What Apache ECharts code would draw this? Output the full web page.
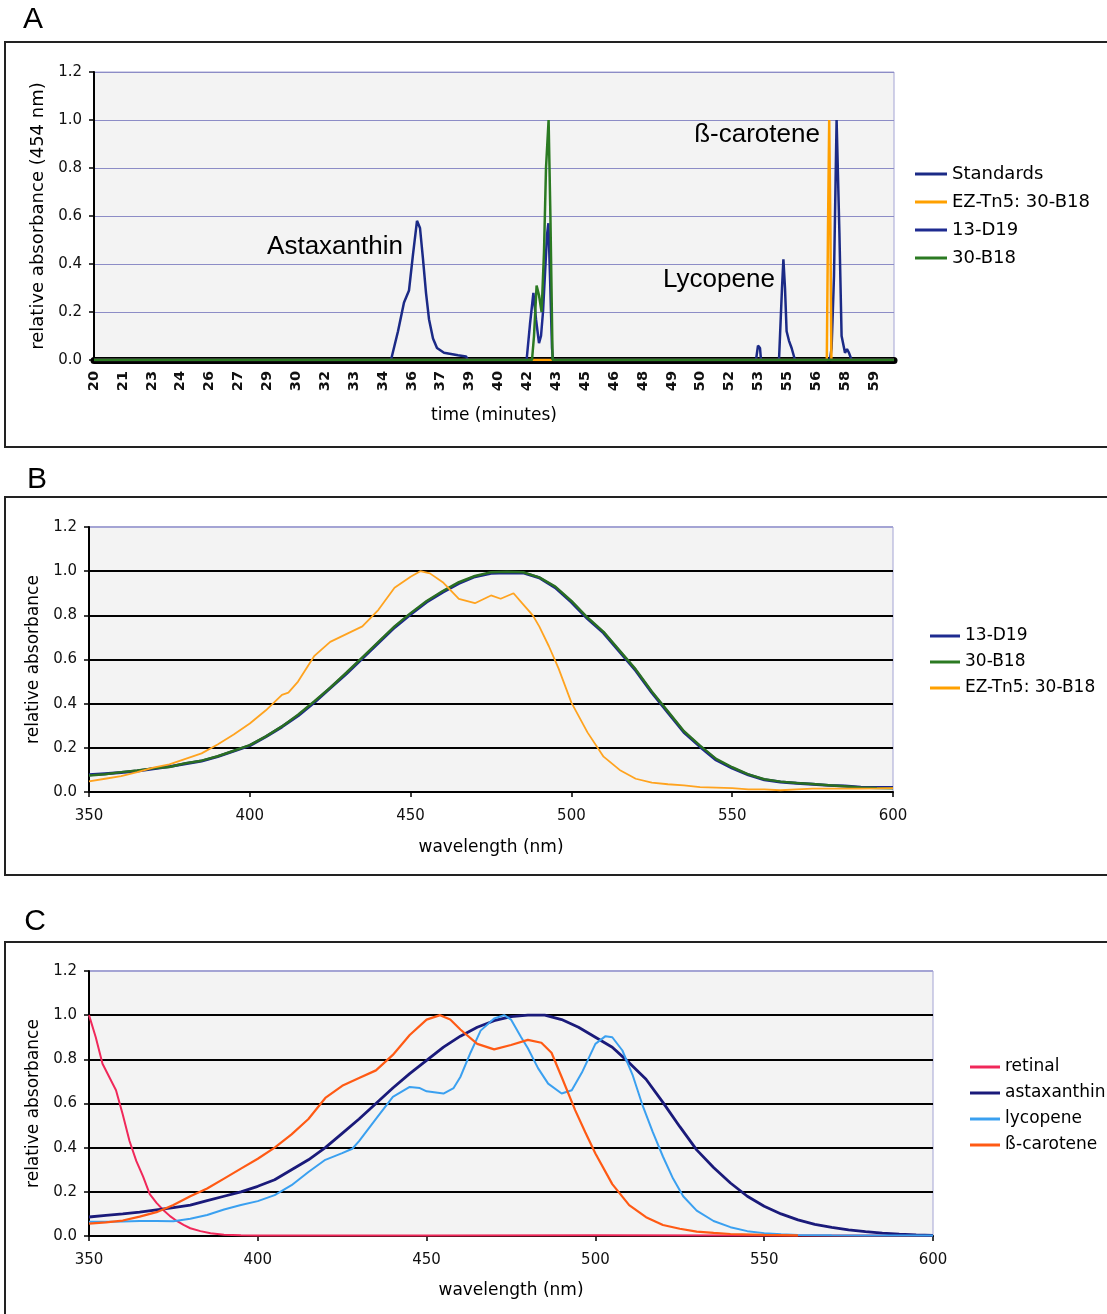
<!DOCTYPE html>
<html><head><meta charset="utf-8">
<script src="https://cdn.jsdelivr.net/npm/echarts@6/dist/echarts.min.js"></script>
<style>html,body{margin:0;padding:0;background:#fff}#c{width:1107px;height:1314px}</style>
</head><body><div id="c"></div>
<script>
// ---------- Panel A: HPLC traces (time in minutes, relative absorbance at 454 nm)
const timeTickLabels = ['20','21','23','24','26','27','29','30','32','33','34','36','37','39','40','42','43','45','46','48','49','50','52','53','55','56','58','59'];
const aStandards = [[20,0],[34.85,0],[35.2,0.12],[35.5,0.24],[35.75,0.29],[35.95,0.44],[36.15,0.58],[36.3,0.55],[36.45,0.42],[36.6,0.28],[36.75,0.17],[36.95,0.09],[37.15,0.05],[37.5,0.03],[38.2,0.02],[38.6,0.015],[38.7,0],[53.1,0],[53.2,0.06],[53.3,0.05],[53.35,0],[54.25,0],[54.4,0.3],[54.47,0.42],[54.55,0.3],[54.63,0.12],[54.75,0.08],[54.88,0.05],[55.05,0],[56.8,0],[56.88,0.05],[57.0,0.35],[57.13,1.0],[57.27,0.53],[57.38,0.1],[57.55,0.03],[57.65,0.045],[57.75,0.03],[57.88,0],[60,0]];
const aEzTn5 = [[20,0],[56.64,0],[56.7,0.55],[56.76,1.0],[56.82,0.55],[56.87,0],[60,0]];
const a13D19 = [[20,0],[41.63,0],[41.8,0.15],[41.97,0.28],[42.1,0.17],[42.25,0.07],[42.35,0.1],[42.45,0.2],[42.55,0.36],[42.65,0.52],[42.72,0.57],[42.8,0.35],[42.9,0.05],[42.95,0],[60,0]];
const a30B18 = [[20,0],[41.9,0],[42.0,0.1],[42.13,0.31],[42.25,0.27],[42.38,0.2],[42.5,0.45],[42.6,0.8],[42.73,1.0],[42.82,0.6],[42.93,0],[60,0]];

// ---------- Panel B: absorbance spectra (wavelength nm)
const b13D19 = [[350,0.078],[355,0.083],[360,0.088],[365,0.095],[370,0.105],[375,0.115],[380,0.128],[385,0.14],[390,0.16],[395,0.185],[400,0.21],[405,0.25],[410,0.295],[415,0.345],[420,0.405],[425,0.47],[430,0.535],[435,0.605],[440,0.675],[445,0.745],[450,0.805],[455,0.86],[460,0.905],[465,0.945],[470,0.975],[475,0.99],[480,0.993],[485,0.992],[490,0.97],[495,0.925],[500,0.86],[505,0.785],[510,0.72],[515,0.635],[520,0.55],[525,0.45],[530,0.36],[535,0.27],[540,0.205],[545,0.145],[550,0.108],[555,0.078],[560,0.055],[565,0.045],[570,0.04],[575,0.035],[580,0.03],[585,0.027],[590,0.022],[595,0.02],[600,0.02]];
const b30B18 = [[350,0.075],[355,0.08],[360,0.09],[365,0.097],[370,0.107],[375,0.113],[380,0.13],[385,0.142],[390,0.162],[395,0.187],[400,0.212],[405,0.252],[410,0.297],[415,0.35],[420,0.41],[425,0.472],[430,0.54],[435,0.61],[440,0.68],[445,0.75],[450,0.81],[455,0.865],[460,0.91],[465,0.95],[470,0.978],[475,0.995],[480,0.997],[485,0.995],[490,0.972],[495,0.93],[500,0.865],[505,0.79],[510,0.725],[515,0.64],[520,0.555],[525,0.455],[530,0.365],[535,0.275],[540,0.21],[545,0.15],[550,0.112],[555,0.08],[560,0.058],[565,0.047],[570,0.041],[575,0.036],[580,0.031],[585,0.026],[590,0.02],[595,0.018],[600,0.017]];
const bEzTn5 = [[350,0.048],[355,0.06],[360,0.072],[365,0.09],[370,0.11],[375,0.125],[380,0.15],[385,0.175],[390,0.215],[395,0.26],[400,0.31],[405,0.37],[410,0.44],[412,0.45],[415,0.5],[420,0.615],[425,0.68],[430,0.715],[435,0.75],[440,0.825],[445,0.925],[450,0.975],[453,1.0],[456,0.99],[460,0.95],[465,0.875],[470,0.855],[475,0.89],[478,0.875],[482,0.9],[485,0.85],[488,0.8],[490,0.75],[493,0.66],[496,0.56],[500,0.405],[505,0.27],[510,0.16],[515,0.1],[520,0.06],[525,0.042],[530,0.035],[535,0.03],[540,0.022],[545,0.02],[550,0.018],[555,0.012],[560,0.012],[565,0.008],[570,0.012],[575,0.015],[580,0.015],[585,0.015],[590,0.015],[595,0.016],[600,0.018]];

// ---------- Panel C: reference spectra
const cRetinal = [[350,1.0],[352,0.9],[354,0.78],[356,0.72],[358,0.66],[360,0.55],[362,0.43],[364,0.34],[366,0.27],[368,0.19],[370,0.15],[372,0.118],[374,0.09],[376,0.068],[378,0.05],[380,0.035],[383,0.022],[386,0.012],[390,0.006],[395,0.003],[400,0.002],[450,0.002],[500,0.003],[550,0.002],[600,0.002]];
const cAstaxanthin = [[350,0.086],[355,0.093],[360,0.1],[365,0.108],[370,0.118],[375,0.128],[380,0.14],[385,0.16],[390,0.18],[395,0.2],[400,0.225],[405,0.255],[410,0.3],[415,0.345],[420,0.4],[425,0.465],[430,0.53],[435,0.6],[440,0.67],[445,0.735],[450,0.795],[455,0.855],[460,0.905],[465,0.945],[470,0.975],[475,0.993],[480,1.0],[485,1.0],[490,0.98],[495,0.945],[500,0.9],[505,0.855],[510,0.785],[515,0.71],[520,0.605],[525,0.495],[530,0.39],[535,0.31],[540,0.24],[545,0.18],[550,0.135],[555,0.1],[560,0.073],[565,0.053],[570,0.039],[575,0.028],[580,0.02],[585,0.013],[590,0.008],[595,0.005],[600,0.003]];
const cLycopene = [[350,0.065],[355,0.065],[360,0.066],[365,0.068],[370,0.068],[375,0.067],[380,0.078],[385,0.095],[390,0.12],[395,0.14],[400,0.158],[405,0.185],[410,0.23],[415,0.29],[420,0.345],[425,0.375],[428,0.395],[430,0.43],[435,0.53],[440,0.63],[445,0.675],[448,0.67],[450,0.655],[455,0.645],[458,0.67],[460,0.72],[463,0.83],[466,0.93],[470,0.985],[473,1.0],[475,0.98],[478,0.9],[480,0.85],[483,0.76],[486,0.69],[490,0.645],[493,0.66],[496,0.74],[500,0.87],[503,0.905],[505,0.9],[508,0.84],[511,0.73],[514,0.59],[517,0.47],[520,0.36],[523,0.26],[526,0.18],[530,0.115],[535,0.068],[540,0.04],[545,0.022],[550,0.013],[555,0.008],[560,0.005],[570,0.003],[580,0.002],[590,0.002],[600,0.002]];
const cBetaCarotene = [[350,0.056],[355,0.062],[360,0.07],[365,0.088],[370,0.108],[375,0.14],[380,0.18],[385,0.215],[390,0.26],[395,0.305],[400,0.35],[405,0.4],[410,0.46],[415,0.53],[420,0.625],[425,0.68],[430,0.715],[435,0.75],[440,0.82],[445,0.91],[450,0.98],[454,1.0],[457,0.98],[460,0.935],[465,0.87],[470,0.845],[475,0.865],[480,0.888],[484,0.875],[487,0.83],[490,0.72],[494,0.57],[497,0.47],[500,0.374],[505,0.235],[510,0.14],[515,0.085],[520,0.05],[525,0.033],[530,0.02],[535,0.014],[540,0.009],[550,0.005],[560,0.003]];

// ---------- chart
const FONT = 'DejaVu Sans';
const timeTickPos = timeTickLabels.map((_, i) => 20 + i * 39 / 27);

function yAxis(gridIndex, name, nameGap, nameSize, splitColors, splitWidth) {
  return {
    gridIndex, type: 'value', min: 0, max: 1.2, interval: 0.2,
    axisLine: { show: true, lineStyle: { color: '#000', width: 2 } },
    axisTick: { show: true, length: 5, lineStyle: { color: '#000', width: 1.5 } },
    axisLabel: { formatter: v => v.toFixed(1), fontSize: 15, fontFamily: FONT, color: '#111', margin: 12 },
    splitLine: { show: true, lineStyle: { color: splitColors, width: splitWidth } },
    name, nameLocation: 'middle', nameGap,
    nameTextStyle: { fontSize: nameSize, fontFamily: FONT, color: '#000' }
  };
}
function wlAxis(gridIndex, nameGap) {
  return {
    gridIndex, type: 'value', min: 350, max: 600, interval: 50,
    axisLine: { show: true, onZero: false, lineStyle: { color: '#000', width: 2 } },
    axisTick: { show: true, length: 5, lineStyle: { color: '#000', width: 1.5 } },
    axisLabel: { fontSize: 15, fontFamily: FONT, color: '#111', margin: 17 },
    splitLine: { show: false },
    name: 'wavelength (nm)', nameLocation: 'middle', nameGap,
    nameTextStyle: { fontSize: 17, fontFamily: FONT, color: '#000' }
  };
}
function line(name, data, xi, color, width, z) {
  return {
    type: 'line', name, data, xAxisIndex: xi, yAxisIndex: xi,
    showSymbol: false, symbol: 'none', smooth: false, z: z || 2,
    color, itemStyle: { color }, lineStyle: { color, width }
  };
}
const blackGrid = ['#000','#000','#000','#000','#000','#000','#a4a4d4'];
const purpleGrid = '#8c8cc6';
const gridBase = { show: true, backgroundColor: '#f3f3f3', borderColor: '#a4a4d4', borderWidth: 1 };

const option = {
  animation: false,
  backgroundColor: '#fff',
  grid: [
    Object.assign({ left: 94, top: 72, width: 800, height: 288 }, gridBase),
    Object.assign({ left: 89, top: 527, width: 804, height: 265 }, gridBase),
    Object.assign({ left: 89, top: 971, width: 844, height: 265 }, gridBase)
  ],
  xAxis: [
    {
      gridIndex: 0, type: 'value', min: 20, max: 60,
      axisLine: { show: true, lineStyle: { color: '#000', width: 7 } },
      axisTick: { show: false },
      splitLine: { show: false },
      axisLabel: {
        customValues: timeTickPos, rotate: 90, fontSize: 14.5, fontWeight: 'bold', fontFamily: FONT, color: '#111', margin: 11,
        formatter: v => timeTickLabels[Math.round((v - 20) * 27 / 39)]
      },
      name: 'time (minutes)', nameLocation: 'middle', nameGap: 47,
      nameTextStyle: { fontSize: 17, fontFamily: FONT, color: '#000' }
    },
    wlAxis(1, 47), wlAxis(2, 46)
  ],
  yAxis: [
    yAxis(0, 'relative absorbance (454 nm)', 46, 18, purpleGrid, 1),
    yAxis(1, 'relative absorbance', 43, 17, blackGrid, 2),
    yAxis(2, 'relative absorbance', 43, 17, blackGrid, 2)
  ],
  legend: [
    { data: ['Standards', 'EZ-Tn5: 30-B18', '13-D19', '30-B18'], orient: 'vertical', left: 910, top: 159,
      icon: 'rect', itemWidth: 32, itemHeight: 3, itemGap: 8,
      textStyle: { fontSize: 18, fontFamily: FONT, color: '#000', lineHeight: 20 } },
    { data: ['13-D19', '30-B18', 'EZ-Tn5: 30-B18'], orient: 'vertical', left: 925, top: 622,
      icon: 'rect', itemWidth: 30, itemHeight: 3, itemGap: 8,
      textStyle: { fontSize: 17, fontFamily: FONT, color: '#000', lineHeight: 18 } },
    { data: ['retinal', 'astaxanthin', 'lycopene', 'ß-carotene'], orient: 'vertical', left: 965, top: 1053,
      icon: 'rect', itemWidth: 30, itemHeight: 3, itemGap: 8,
      textStyle: { fontSize: 17, fontFamily: FONT, color: '#000', lineHeight: 18 } }
  ],
  series: [
    line('Standards', aStandards, 0, '#1b2a86', 2.5, 2),
    line('EZ-Tn5: 30-B18', aEzTn5, 0, '#ffa000', 2.5, 3),
    line('13-D19', a13D19, 0, '#1e2b90', 2.5, 4),
    line('30-B18', a30B18, 0, '#2b7a22', 2.5, 5),
    line('13-D19', b13D19, 1, '#1b2490', 3, 2),
    line('30-B18', b30B18, 1, '#2a6e22', 2.5, 3),
    line('EZ-Tn5: 30-B18', bEzTn5, 1, '#ffa31f', 1.8, 4),
    line('retinal', cRetinal, 2, '#f0285a', 2, 2),
    line('astaxanthin', cAstaxanthin, 2, '#1a1a7a', 2.8, 3),
    line('lycopene', cLycopene, 2, '#3aa0f0', 2, 4),
    line('ß-carotene', cBetaCarotene, 2, '#ff5a14', 2.2, 5)
  ],
  graphic: [
    { type: 'rect', silent: true, z: -1, shape: { x: 5, y: 42, width: 1110, height: 405 }, style: { fill: 'none', stroke: '#222', lineWidth: 2 } },
    { type: 'rect', silent: true, z: -1, shape: { x: 5, y: 497, width: 1110, height: 378 }, style: { fill: 'none', stroke: '#222', lineWidth: 2 } },
    { type: 'rect', silent: true, z: -1, shape: { x: 5, y: 942, width: 1110, height: 390 }, style: { fill: 'none', stroke: '#222', lineWidth: 2 } },
    { type: 'text', silent: true, x: 33, y: 20, style: { text: 'A', font: '30px "Liberation Sans"', fill: '#000', align: 'center', verticalAlign: 'middle' } },
    { type: 'text', silent: true, x: 37, y: 480, style: { text: 'B', font: '30px "Liberation Sans"', fill: '#000', align: 'center', verticalAlign: 'middle' } },
    { type: 'text', silent: true, x: 35, y: 922, style: { text: 'C', font: '30px "Liberation Sans"', fill: '#000', align: 'center', verticalAlign: 'middle' } },
    { type: 'text', silent: true, z: 10, x: 335, y: 247, style: { text: 'Astaxanthin', font: '26px "Liberation Sans"', fill: '#000', align: 'center', verticalAlign: 'middle' } },
    { type: 'text', silent: true, z: 10, x: 757, y: 135, style: { text: 'ß-carotene', font: '26px "Liberation Sans"', fill: '#000', align: 'center', verticalAlign: 'middle' } },
    { type: 'text', silent: true, z: 10, x: 719, y: 280, style: { text: 'Lycopene', font: '26px "Liberation Sans"', fill: '#000', align: 'center', verticalAlign: 'middle' } }
  ]
};
const chart = echarts.init(document.getElementById('c'), null, { renderer: 'canvas' });
chart.setOption(option);
</script>
</body></html>
